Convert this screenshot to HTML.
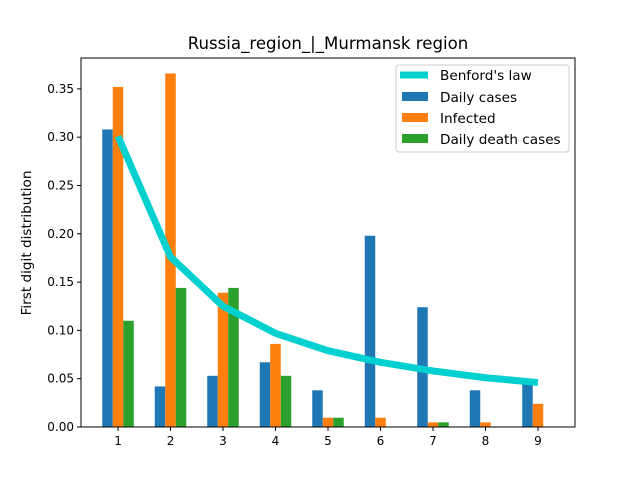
<!DOCTYPE html>
<html><head><meta charset="utf-8"><style>
body{margin:0;background:#fff}
svg{font-family:"DejaVu Sans","Liberation Sans",sans-serif}
</style></head><body>
<svg id="chart" width="640" height="480" viewBox="0 0 640 480" xmlns="http://www.w3.org/2000/svg">
<rect width="640" height="480" fill="#fff"/>
<text x="328" y="49" text-anchor="middle" font-size="16.6">Russia_region_|_Murmansk region</text>
<text transform="translate(31,243) rotate(-90)" text-anchor="middle" font-size="13.6">First digit distribution</text>
<g id="bars"></g>
<g id="line"></g>
<g id="axes"></g>
<g>
<rect x="396" y="65" width="173" height="87" rx="3" fill="#fff" fill-opacity="0.8" stroke="#ccc"/>
<line x1="400" y1="75" x2="428" y2="75" stroke="#00d0d0" stroke-width="7"/>
<text x="440" y="80" font-size="13.6">Benford's law</text>
<rect x="402" y="92" width="26" height="9" fill="#1f77b4"/>
<text x="440" y="102" font-size="13.6">Daily cases</text>
<rect x="402" y="113" width="26" height="9" fill="#ff7f0e"/>
<text x="440" y="123" font-size="13.6">Infected</text>
<rect x="402" y="134" width="26" height="9" fill="#2ca02c"/>
<text x="440" y="144" font-size="13.6">Daily death cases</text>
</g>
</svg>
<script>
const digits=[1,2,3,4,5,6,7,8,9];
const benford=[0.301,0.176,0.125,0.097,0.079,0.067,0.058,0.051,0.046];
const dailyCases=[0.308,0.042,0.053,0.067,0.038,0.198,0.124,0.038,0.045];
const infected=[0.352,0.366,0.139,0.086,0.0096,0.0096,0.0048,0.0048,0.024];
const deaths=[0.11,0.144,0.144,0.053,0.0096,0,0.0048,0,0];
const yTicks=[0,0.05,0.10,0.15,0.20,0.25,0.30,0.35];
const yTickLabels=["0.00","0.05","0.10","0.15","0.20","0.25","0.30","0.35"];
const L=81,R=575,T=58,B=427;
const x=v=>L+(v-0.295)/(9.705-0.295)*(R-L);
const y=v=>B-v*966;
const NS="http://www.w3.org/2000/svg";
function mk(tag,attrs,parent){const e=document.createElementNS(NS,tag);for(const k in attrs)e.setAttribute(k,attrs[k]);parent.appendChild(e);return e;}
const bars=document.getElementById('bars');
const series=[[dailyCases,-0.2,'#1f77b4','daily-cases'],[infected,0,'#ff7f0e','infected'],[deaths,0.2,'#2ca02c','daily-deaths']];
series.forEach(([vals,off,col,nm])=>{
 vals.forEach((v,i)=>{
  const x0=x(digits[i]+off-0.1),x1=x(digits[i]+off+0.1);
  const r=mk('rect',{x:x0,y:y(v),width:x1-x0,height:B-y(v),fill:col},bars);
  
  
 });
});
const line=document.getElementById('line');
const pl=mk('polyline',{points:digits.map((d,i)=>x(d)+','+y(benford[i])).join(' '),fill:'none',stroke:'#00d0d0','stroke-width':7},line);


const ax=document.getElementById('axes');
const frame=mk('rect',{x:L,y:T,width:R-L,height:B-T,fill:'none',stroke:'#000','stroke-width':1},ax);


yTicks.forEach((t,i)=>{
 mk('line',{x1:L-4,x2:L,y1:y(t),y2:y(t),stroke:'#000'},ax);
 const tx=mk('text',{x:L-7,y:y(t)+4,'text-anchor':'end','font-size':12},ax);
 tx.textContent=yTickLabels[i];
 
 
});
digits.forEach(d=>{
 mk('line',{x1:x(d),x2:x(d),y1:B,y2:B+4,stroke:'#000'},ax);
 const tx=mk('text',{x:x(d),y:B+18,'text-anchor':'middle','font-size':12},ax);
 tx.textContent=d;
 
 
});
</script>
</body></html>
